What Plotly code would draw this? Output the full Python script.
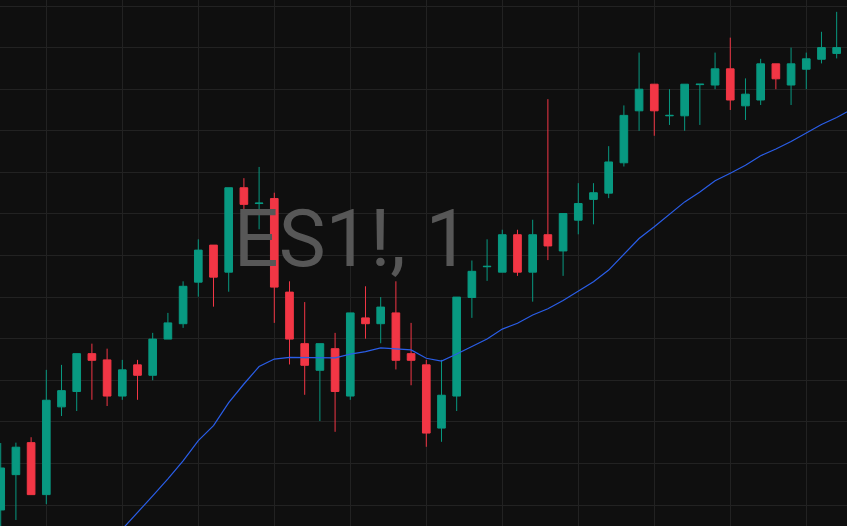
import pandas as pd
import plotly.graph_objects as go

# ES1! 1-minute bars
times = pd.date_range("2024-05-20 09:57", periods=56, freq="min")

opens = [5199.88, 5200.73, 5201.50, 5200.25, 5202.36, 5202.73, 5203.64, 5203.49, 5202.62, 5203.37,
         5203.12, 5203.99, 5204.36, 5205.36, 5206.25, 5205.60, 5207.63, 5207.25, 5207.37, 5205.12,
         5203.88, 5203.24, 5203.76, 5202.62, 5204.50, 5204.36, 5204.62, 5203.64, 5203.37, 5201.85,
         5202.62, 5204.99, 5205.73, 5205.60, 5206.50, 5205.60, 5206.50, 5206.11, 5206.85, 5207.35,
         5207.50, 5208.23, 5209.48, 5210.12, 5209.36, 5209.36, 5210.11, 5210.10, 5210.49, 5209.60,
         5209.74, 5210.61, 5210.10, 5210.48, 5210.72, 5210.86]
highs = [5201.49, 5201.50, 5201.63, 5203.25, 5203.37, 5203.64, 5203.88, 5203.76, 5203.49, 5203.49,
         5204.14, 5204.62, 5205.38, 5206.39, 5206.25, 5207.63, 5207.86, 5208.13, 5207.51, 5205.38,
         5204.88, 5203.88, 5204.14, 5204.62, 5205.26, 5205.00, 5205.38, 5204.38, 5203.49, 5203.49,
         5205.00, 5205.88, 5206.39, 5206.62, 5206.62, 5206.86, 5209.76, 5207.01, 5207.74, 5207.74,
         5208.63, 5209.61, 5210.88, 5210.12, 5210.00, 5210.12, 5210.12, 5210.88, 5211.24, 5210.26,
         5210.73, 5210.61, 5211.00, 5210.88, 5211.38, 5211.86]
lows = [5199.40, 5199.64, 5200.25, 5200.02, 5202.14, 5202.26, 5202.53, 5202.38, 5202.53, 5202.53,
        5203.00, 5203.99, 5204.26, 5205.01, 5204.77, 5205.13, 5206.63, 5206.63, 5204.38, 5203.38,
        5202.65, 5202.02, 5201.76, 5202.53, 5204.00, 5203.89, 5203.26, 5202.88, 5201.40, 5201.52,
        5202.26, 5204.50, 5205.39, 5205.60, 5205.51, 5204.89, 5205.89, 5205.51, 5206.51, 5206.75,
        5207.38, 5208.14, 5209.00, 5208.88, 5209.14, 5209.00, 5209.14, 5210.00, 5209.50, 5209.26,
        5209.62, 5210.00, 5209.62, 5210.00, 5210.62, 5210.74]
closes = [5200.89, 5201.39, 5200.25, 5202.52, 5202.75, 5203.64, 5203.48, 5202.62, 5203.25, 5203.12,
          5203.99, 5204.38, 5205.26, 5206.13, 5205.48, 5207.63, 5207.23, 5207.26, 5205.24, 5203.99,
          5203.36, 5203.88, 5202.73, 5204.62, 5204.36, 5204.76, 5203.48, 5203.48, 5201.73, 5202.64,
          5205.00, 5205.62, 5205.74, 5206.50, 5205.60, 5206.50, 5206.23, 5207.01, 5207.25, 5207.51,
          5208.25, 5209.37, 5210.00, 5209.48, 5209.37, 5210.12, 5210.12, 5210.49, 5209.74, 5209.88,
          5210.61, 5210.25, 5210.61, 5210.73, 5211.00, 5211.00]

# moving average (starts below the visible area), last point runs past the right edge
ma = [None, None, None, None, None, None, None, None, 5199.42, 5199.81,
      5200.22, 5200.63, 5201.06, 5201.55, 5201.91, 5202.46, 5202.91, 5203.33, 5203.51, 5203.55,
      5203.55, 5203.55, 5203.54, 5203.63, 5203.69, 5203.78, 5203.75, 5203.73, 5203.53, 5203.46,
      5203.63, 5203.81, 5203.99, 5204.23, 5204.37, 5204.57, 5204.72, 5204.92, 5205.15, 5205.37,
      5205.65, 5206.03, 5206.41, 5206.69, 5206.99, 5207.29, 5207.53, 5207.80, 5207.98, 5208.17,
      5208.40, 5208.56, 5208.74, 5208.95, 5209.15, 5209.32, 5209.52]
ma_times = pd.date_range("2024-05-20 09:57", periods=len(ma), freq="min")

green = "#089981"
red = "#F23645"
start = times[0]

fig = go.Figure()

# watermark, drawn first so the candles sit on top of it
fig.add_trace(go.Scatter(
    x=[start + pd.Timedelta(minutes=23.1)], y=[5206.22],
    mode="text", text=["ES1!, 1"], textposition="middle center",
    textfont=dict(family="Roboto", size=79, color="#575757"),
    hoverinfo="skip", showlegend=False,
))

fig.add_trace(go.Scatter(
    x=ma_times, y=ma, mode="lines",
    line=dict(color="#2A5EE8", width=1.2),
    hoverinfo="skip", showlegend=False,
))

fig.add_trace(go.Candlestick(
    x=times, open=opens, high=highs, low=lows, close=closes,
    increasing=dict(line=dict(color=green, width=1), fillcolor=green),
    decreasing=dict(line=dict(color=red, width=1), fillcolor=red),
    whiskerwidth=0, showlegend=False,
))

fig.update_layout(
    width=847, height=526,
    margin=dict(l=0, r=0, t=0, b=0),
    paper_bgcolor="#0F0F0F", plot_bgcolor="#0F0F0F",
    boxgap=0.28,
    xaxis=dict(
        range=[start - pd.Timedelta(seconds=2.8), start + pd.Timedelta(minutes=55.68)],
        rangeslider=dict(visible=False),
        tick0="2024-05-20 10:00", dtick=300000,
        showgrid=True, gridcolor="#222222", gridwidth=1,
        showticklabels=False, zeroline=False, showline=False,
    ),
    yaxis=dict(
        range=[5199.495, 5212.145],
        tick0=5200, dtick=1,
        showgrid=True, gridcolor="#222222", gridwidth=1,
        showticklabels=False, zeroline=False, showline=False,
    ),
)

fig.write_html(
    "out.html",
    config={"displayModeBar": False},
    post_script="document.body.style.margin='0';document.body.style.background='#0F0F0F';",
)
